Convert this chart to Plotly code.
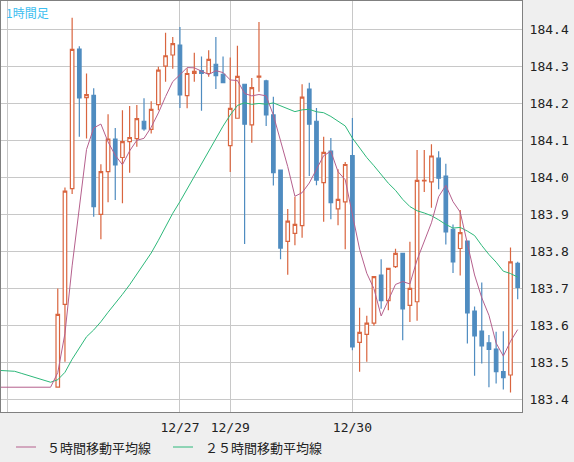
import pandas as pd
import plotly.graph_objects as go

# hourly candles, oldest first (slot index 8 .. 72)
opens = [183.432, 183.656, 183.969, 184.346, 184.215, 184.221, 183.899, 184.015, 184.103, 184.053,
         184.096, 184.104, 184.151, 184.129, 184.196, 184.300, 184.330, 184.357, 184.220, 184.280,
         184.288, 184.280, 184.305, 184.278, 184.085, 184.159, 184.251, 184.141, 184.270, 184.260,
         184.168, 184.019, 183.826, 183.848, 183.869, 184.238, 184.151, 183.985, 184.070, 183.914,
         183.933, 184.058, 183.553, 183.575, 183.605, 183.735, 183.666, 183.758, 183.794, 183.653,
         183.663, 183.990, 183.987, 184.051, 184.003, 183.859, 183.807, 183.827, 183.638, 183.584,
         183.552, 183.535, 183.474, 183.465, 183.767]
highs = [183.699, 183.972, 184.431, 184.354, 184.280, 184.240, 184.035, 184.170, 184.133, 184.181,
         184.192, 184.195, 184.213, 184.205, 184.298, 184.390, 184.379, 184.406, 184.294, 184.336,
         184.326, 184.343, 184.379, 184.326, 184.323, 184.355, 184.251, 184.268, 184.419, 184.263,
         184.217, 184.019, 183.914, 183.947, 184.251, 184.255, 184.187, 184.109, 184.106, 184.021,
         184.041, 184.160, 183.647, 183.625, 183.731, 183.778, 183.753, 183.806, 183.794, 183.825,
         184.073, 184.073, 184.089, 184.070, 184.036, 183.872, 183.911, 183.827, 183.650, 183.715,
         183.573, 183.582, 183.583, 183.810, 183.771]
lows = [183.432, 183.501, 183.954, 184.109, 184.104, 183.893, 183.832, 183.932, 183.938, 183.929,
        184.012, 184.082, 184.125, 184.118, 184.181, 184.258, 184.293, 184.187, 184.186, 184.258,
        184.179, 184.271, 184.238, 184.255, 184.014, 184.159, 183.819, 184.093, 184.231, 184.138,
        183.977, 183.778, 183.736, 183.816, 183.836, 184.003, 183.978, 183.879, 183.886, 183.870,
        183.805, 183.532, 183.474, 183.501, 183.598, 183.644, 183.640, 183.754, 183.559, 183.608,
        183.612, 183.960, 183.917, 183.967, 183.818, 183.741, 183.734, 183.550, 183.463, 183.496,
        183.432, 183.442, 183.426, 183.418, 183.670]
closes = [183.629, 183.962, 184.345, 184.214, 184.223, 183.920, 184.015, 184.103, 184.033, 184.096,
          184.107, 184.158, 184.130, 184.183, 184.289, 184.328, 184.361, 184.222, 184.280, 184.286,
          184.280, 184.318, 184.274, 184.255, 184.186, 184.272, 184.143, 184.242, 184.273, 184.168,
          184.012, 183.808, 183.881, 183.872, 184.216, 184.143, 183.992, 184.067, 183.931, 183.940,
          184.034, 183.541, 183.580, 183.605, 183.731, 183.666, 183.753, 183.794, 183.644, 183.699,
          183.991, 183.991, 184.057, 183.997, 183.852, 183.771, 183.850, 183.633, 183.571, 183.544,
          183.534, 183.474, 183.458, 183.771, 183.702]

# closes before the first drawn candle (holiday, flat market), used for the averages
prior_closes = [183.46, 183.46, 183.58, 183.58, 183.58, 183.58, 183.58,
                183.46, 183.46, 183.46, 183.46, 183.46, 183.46, 183.46, 183.46, 183.46,
                183.46, 183.46, 183.46, 183.432, 183.432, 183.432, 183.432, 183.432,
                183.432, 183.432, 183.432, 183.432, 183.432, 183.432, 183.432, 183.432]

date_ticks = ["", "12/27", "12/29", "12/30"]
date_tick_slots = [1, 25, 32, 49]
price_ticks = [183.4, 183.5, 183.6, 183.7, 183.8, 183.9, 184.0, 184.1, 184.2, 184.3, 184.4]

n_prior = len(prior_closes)
first_slot = 8
all_close = pd.Series(prior_closes + closes)
all_slots = list(range(first_slot - n_prior, first_slot + len(closes)))
ma5 = all_close.rolling(5).mean()
ma25 = all_close.rolling(25).mean()
keep = [i for i, s in enumerate(all_slots) if s >= 0]
ma_x = [all_slots[i] for i in keep]

slots = list(range(first_slot, first_slot + len(closes)))

UP = "#d9653f"
DOWN = "#4f8cc0"
MA5_COLOR = "#b5608d"
MA25_COLOR = "#2db87a"
JP = "Noto Sans CJK JP"

fig = go.Figure()
fig.add_trace(go.Scatter(x=ma_x, y=[ma25[i] for i in keep], mode="lines",
                         line=dict(color=MA25_COLOR, width=1), hoverinfo="skip"))
fig.add_trace(go.Candlestick(
    x=slots, open=opens, high=highs, low=lows, close=closes,
    increasing=dict(line=dict(color=UP, width=1.2), fillcolor="white"),
    decreasing=dict(line=dict(color=DOWN, width=1.2), fillcolor=DOWN),
    whiskerwidth=0,
))
fig.add_trace(go.Scatter(x=ma_x, y=[ma5[i] for i in keep], mode="lines",
                         line=dict(color=MA5_COLOR, width=1), hoverinfo="skip"))

fig.update_layout(
    width=574, height=462,
    margin=dict(l=1, r=52, t=1, b=50, pad=0, autoexpand=False),
    paper_bgcolor="#efefef", plot_bgcolor="white",
    showlegend=False,
    font=dict(family="DejaVu Sans Mono", size=13, color="#222"),
    xaxis=dict(range=[0.1, 72.6], tickvals=date_tick_slots, ticktext=date_ticks,
               showgrid=True, gridcolor="#c8c8c8", ticks="", rangeslider=dict(visible=False),
               showline=True, linecolor="#808080", mirror=True, zeroline=False,
               automargin=False, ticklabelstandoff=3),
    yaxis=dict(range=[183.365, 184.476], side="right", tickvals=price_ticks,
               tickformat=".1f", showgrid=True, gridcolor="#c8c8c8", ticks="",
               showline=True, linecolor="#808080", mirror=True, zeroline=False,
               automargin=False, ticklabelstandoff=4, tickfont=dict(size=13)),
)

# legend drawn by hand under the axis
legend_y = -35 / 411.0
for lx, tx, label, col in [(16, 45, "５時間移動平均線", MA5_COLOR),
                           (173, 203, "２５時間移動平均線", MA25_COLOR)]:
    fig.add_shape(type="line", xref="paper", yref="paper",
                  x0=(lx - 1) / 521, x1=(lx + 19) / 521, y0=legend_y, y1=legend_y,
                  line=dict(color=col, width=1))
    fig.add_annotation(text=label, xref="paper", yref="paper", x=(tx - 1) / 521, y=legend_y,
                       xanchor="left", yanchor="middle", showarrow=False,
                       font=dict(family=JP, size=13, color="#222"))
fig.add_annotation(text="1時間足", xref="paper", yref="paper", x=0.005, y=0.998,
                   xanchor="left", yanchor="top", showarrow=False,
                   font=dict(family=JP, size=12, color="#3cbef0"))

fig.write_html("out.html", config={"displayModeBar": False},
               post_script="document.body.style.margin='0';")
